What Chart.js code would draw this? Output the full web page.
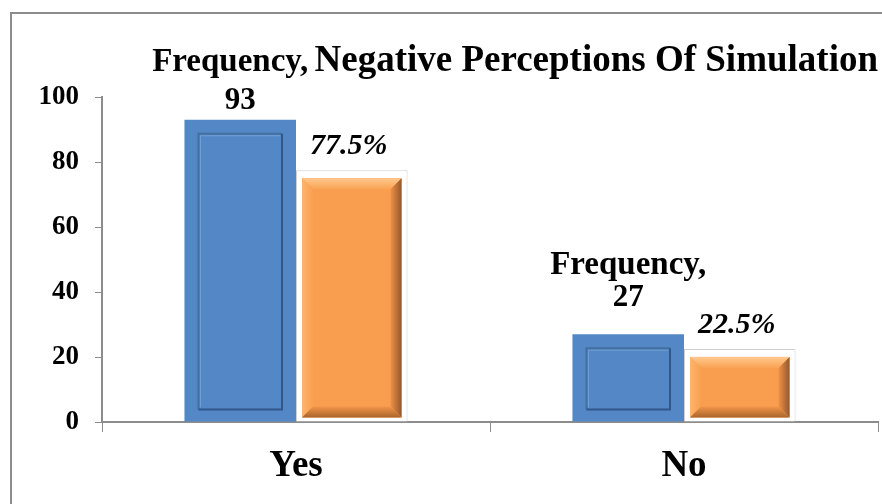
<!DOCTYPE html>
<html>
<head>
<meta charset="utf-8">
<script src="https://cdn.jsdelivr.net/npm/chart.js"></script>
<style>
  html, body { margin: 0; padding: 0; background: #fff; overflow: hidden; }
  #frame { position: absolute; left: 10px; top: 12px; width: 900px; height: 520px;
           border: 2px solid #8c8c8c; box-sizing: border-box; }
  #wrap { position: absolute; left: 0; top: 0; width: 882px; height: 504px; }
</style>
</head>
<body>
<div id="frame"></div>
<div id="wrap"><canvas id="myChart" width="882" height="504"></canvas></div>
<script>
  // chart values
  const categories = ['Yes', 'No'];
  const frequency = [93, 27];
  const percent = [77.5, 22.5];
  const yMin = 0, yMax = 100, yStep = 20;

  const serif = "'Liberation Serif', 'Times New Roman', serif";
  Chart.defaults.font.family = serif;
  Chart.defaults.color = '#000';

  function barBox(bar) {
    const p = bar.getProps(['x', 'y', 'base', 'width'], true);
    return { l: p.x - p.width / 2, r: p.x + p.width / 2, t: p.y, b: p.base, x: p.x };
  }

  // office style bevels on top of the plain bars
  const bevelPlugin = {
    id: 'bevel',
    afterDatasetsDraw(chart) {
      const ctx = chart.ctx;
      ctx.save();
      chart.getDatasetMeta(0).data.forEach(bar => {
        const b = barBox(bar);
        const l = b.l + 14, r = b.r - 14, t = b.t + 14, bt = b.b - 12;
        ctx.lineWidth = 2;
        ctx.strokeStyle = '#44709f';
        ctx.beginPath(); ctx.moveTo(l, bt); ctx.lineTo(l, t); ctx.lineTo(r, t); ctx.stroke();
        ctx.strokeStyle = '#30568a';
        ctx.beginPath(); ctx.moveTo(r, t); ctx.lineTo(r, bt); ctx.lineTo(l, bt); ctx.stroke();
        ctx.lineWidth = 1;
        ctx.strokeStyle = '#729fd4';
        ctx.beginPath(); ctx.moveTo(l + 2, bt - 2); ctx.lineTo(l + 2, t + 2); ctx.lineTo(r - 2, t + 2); ctx.stroke();
      });
      chart.getDatasetMeta(1).data.forEach(bar => {
        const b = barBox(bar);
        const l = b.l + 6, r = b.r - 6, t = b.t + 8, bt = b.b - 4;
        const s = 11;
        ctx.fillStyle = '#f99e4e';
        ctx.fillRect(l, t, r - l, bt - t);
        const band = (pts, x0, y0, x1, y1, c0, c1) => {
          const g = ctx.createLinearGradient(x0, y0, x1, y1);
          g.addColorStop(0, c0); g.addColorStop(1, c1);
          ctx.fillStyle = g;
          ctx.beginPath();
          pts.forEach((p, i) => i ? ctx.lineTo(p[0], p[1]) : ctx.moveTo(p[0], p[1]));
          ctx.closePath(); ctx.fill();
        };
        band([[l, t], [r, t], [r - s, t + s], [l + s, t + s]], 0, t, 0, t + s, '#ffc98e', '#f9a354');
        band([[l, t], [l + s, t + s], [l + s, bt - s], [l, bt]], l, 0, l + s, 0, '#fdb46c', '#f9a052');
        band([[r, t], [r, bt], [r - s, bt - s], [r - s, t + s]], r, 0, r - s, 0, '#95582a', '#f09048');
        band([[l, bt], [r, bt], [r - s, bt - s], [l + s, bt - s]], 0, bt, 0, bt - s, '#aa652c', '#f29549');
      });
      ctx.restore();
    }
  };

  // value labels above the bars
  const labelPlugin = {
    id: 'barLabels',
    afterDatasetsDraw(chart, args, opts) {
      const ctx = chart.ctx;
      ctx.save();
      ctx.fillStyle = '#000';
      ctx.textAlign = 'center';
      ctx.textBaseline = 'alphabetic';
      chart.getDatasetMeta(0).data.forEach((bar, i) => {
        const b = barBox(bar);
        const y = b.t - opts.gap[i];
        ctx.font = 'bold 31px ' + serif;
        ctx.fillText(frequency[i], b.x, y);
        ctx.font = 'bold 33px ' + serif;
        ctx.fillText(chart.data.datasets[0].label + ',', b.x - opts.shift[i], y - opts.line[i]);
      });
      chart.getDatasetMeta(1).data.forEach((bar, i) => {
        const b = barBox(bar);
        ctx.font = 'italic bold 30px ' + serif;
        ctx.fillText(percent[i] + '%', b.x - 3, b.t - 16);
      });
      ctx.restore();
    }
  };

  new Chart(document.getElementById('myChart'), {
    type: 'bar',
    data: {
      labels: categories,
      datasets: [
        { label: 'Frequency', data: frequency, backgroundColor: '#5387c6', borderWidth: 0 },
        { label: 'Percent', data: percent, backgroundColor: '#ffffff',
          borderColor: '#cfcfcf', borderWidth: 1 }
      ]
    },
    options: {
      responsive: false,
      animation: false,
      layout: { padding: { left: 0, right: 4, top: 0, bottom: 0 } },
      datasets: { bar: { categoryPercentage: 0.575, barPercentage: 1 } },
      plugins: {
        legend: { display: false },
        tooltip: { enabled: false },
        title: {
          display: true,
          text: 'Negative Perceptions Of Simulation',
          align: 'end',
          font: { size: 37, weight: 'bold', lineHeight: 1.2 },
          color: '#000',
          padding: { top: 39, bottom: 13.6 }
        },
        barLabels: { gap: [11, 28], line: [38, 32], shift: [10, 0] }
      },
      scales: {
        x: {
          grid: { offset: true, drawOnChartArea: false, tickLength: 10, color: '#8c8c8c' },
          border: { color: '#8c8c8c', width: 2 },
          ticks: { font: { size: 37, weight: 'bold' }, color: '#000', padding: 12 },
          afterFit(scale) { scale.height = 82; }
        },
        y: {
          min: yMin, max: yMax,
          grid: { drawOnChartArea: false, tickLength: 7, color: '#8c8c8c' },
          border: { color: '#8c8c8c', width: 2 },
          ticks: { stepSize: yStep, font: { size: 27, weight: 'bold' }, color: '#000', padding: 16 },
          afterFit(scale) { scale.width = 102; }
        }
      }
    },
    plugins: [bevelPlugin, labelPlugin]
  });
</script>
</body>
</html>
